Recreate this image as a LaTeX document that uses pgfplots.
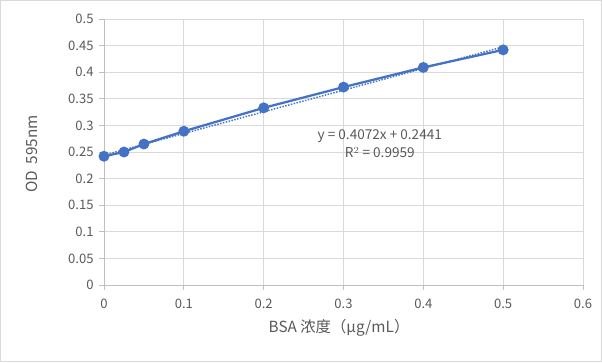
\documentclass[border=0pt]{standalone}
\usepackage{pgfplots}
\pgfplotsset{compat=1.18}
\usepackage{fontspec}
\setmainfont{Noto Sans CJK SC}
\definecolor{serblue}{HTML}{4472C4}
\definecolor{gridgray}{HTML}{D9D9D9}
\definecolor{axgray}{HTML}{BFBFBF}
\definecolor{txtgray}{HTML}{595959}
\begin{document}
\begin{tikzpicture}
\draw[gridgray, line width=0.75pt] (0.375pt,0.375pt) rectangle (451.125pt,271.125pt);
\begin{axis}[
  at={(78pt,57.75pt)}, anchor=south west,
  scale only axis, width=359.25pt, height=199.5pt,
  xmin=0, xmax=0.6, ymin=0, ymax=0.5,
  xtick={0,0.1,...,0.6}, ytick={0,0.05,...,0.5},
  xticklabels={0,0.1,0.2,0.3,0.4,0.5,0.6},
  yticklabels={0,0.05,0.1,0.15,0.2,0.25,0.3,0.35,0.4,0.45,0.5},
  axis lines*=left,
  axis line style={axgray, line width=0.75pt},
  grid=major, grid style={gridgray, line width=0.75pt},
  tick align=outside, major tick length=3.75pt,
  tick style={axgray, line width=0.75pt},
  ticklabel style={font=\fontsize{9.8}{11}\selectfont, text=txtgray},
  /pgf/number format/assume math mode=true,
  xticklabel style={yshift=-3pt},
  yticklabel style={xshift=-0.5pt},
  clip=false,
]
\addplot[serblue, line width=1.1pt, dotted, dash pattern=on 1.1pt off 1.1pt] coordinates {(0,0.2441) (0.5,0.4477)};
\addplot[serblue, line width=1.7pt, mark=*, mark size=3.2pt, mark options={solid, fill=serblue}] coordinates {
(0,0.242) (0.025,0.250) (0.05,0.265) (0.1,0.289) (0.2,0.333) (0.3,0.372) (0.4,0.409) (0.5,0.442)};
\node[text=txtgray, font=\fontsize{10.2}{12}\selectfont, align=center] at (axis cs:0.3455,0.265)
  {y = 0.4072x + 0.2441\\[1.5pt] R$^{2}$ = 0.9959};
\end{axis}
\node[rotate=90, text=txtgray, font=\fontsize{11.5}{13}\selectfont] at (24pt,156pt) {OD\ \ 595nm};
\node[text=txtgray, font=\fontsize{11.5}{13}\selectfont] at (254.25pt,25.5pt) {BSA 浓度（µg/mL）};
\end{tikzpicture}
\end{document}
